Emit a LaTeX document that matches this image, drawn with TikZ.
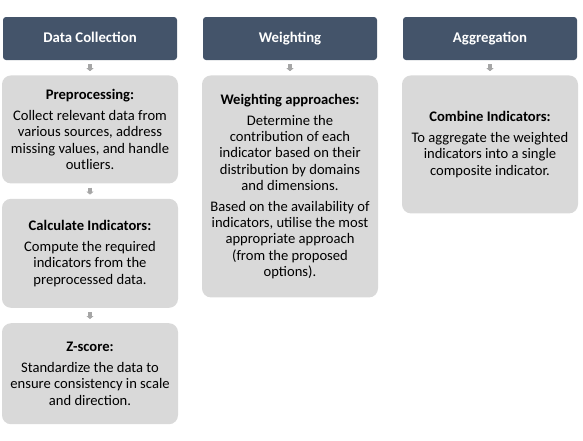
\documentclass[tikz,border=0pt]{standalone}
\usepackage{fontspec}
\setmainfont{Carlito}
\usetikzlibrary{positioning,arrows.meta}
\definecolor{slate}{HTML}{44546A}
\definecolor{panelgray}{HTML}{D9D9D9}
\definecolor{arrowgray}{HTML}{A6A6A6}
\tikzset{
    header/.style = {
        fill=slate,
        rounded corners=3pt,
        minimum width=174pt,
        minimum height=43pt,
        text height=10pt,
        text depth=3pt,
        text=white,
        font=\fontsize{14.8}{15.5}\selectfont\bfseries
    },
    panel/.style = {
        fill=panelgray,
        rounded corners=9pt,
        minimum width=176pt,
        align=center,
        font=\fontsize{14.6}{16.2}\selectfont
    },
    link/.style = {
        arrowgray,
        line width=3.5pt,
        shorten <=4pt,
        shorten >=4pt,
        -{Triangle[width=7pt,length=3pt]}
    }
}

\begin{document}
\begin{tikzpicture}[x=1pt,y=1pt,node distance=15pt]
    \useasboundingbox (0,0) rectangle (583,-440);

    % Draw headers
    \node[header] (hcollect) at (90,-38.5)  {Data Collection};
    \node[header] (hweight)  at (290,-38.5) {Weighting};
    \node[header] (haggr)    at (490,-38.5) {Aggregation};

    % Draw panels
    \node[panel, minimum height=108pt, below=of hcollect] (prep)
        {\textbf{Preprocessing:}\\[5pt]
         Collect relevant data from\\ various sources, address\\
         missing values, and handle\\ outliers.};
    \node[panel, minimum height=109pt, below=of prep] (calc)
        {\textbf{Calculate Indicators:}\\[5pt]
         Compute the required\\ indicators from the\\ preprocessed data.};
    \node[panel, minimum height=101pt, below=of calc] (zscore)
        {\textbf{Z-score:}\\[5pt]
         Standardize the data to\\ ensure consistency in scale\\ and direction.};
    \node[panel, minimum height=222pt, below=of hweight] (approach)
        {\textbf{Weighting approaches:}\\[5pt]
         Determine the\\ contribution of each\\ indicator based on their\\
         distribution by domains\\ and dimensions.\\[5pt]
         Based on the availability of\\ indicators, utilise the most\\
         appropriate approach\\ (from the proposed\\ options).};
    \node[panel, minimum height=138pt, below=of haggr] (combine)
        {\textbf{Combine Indicators:}\\[5pt]
         To aggregate the weighted\\ indicators into a single\\ composite indicator.};

    % Draw arrows
    \draw[link] (hcollect) -- (prep);
    \draw[link] (prep) -- (calc);
    \draw[link] (calc) -- (zscore);
    \draw[link] (hweight) -- (approach);
    \draw[link] (haggr) -- (combine);
\end{tikzpicture}
\end{document}
